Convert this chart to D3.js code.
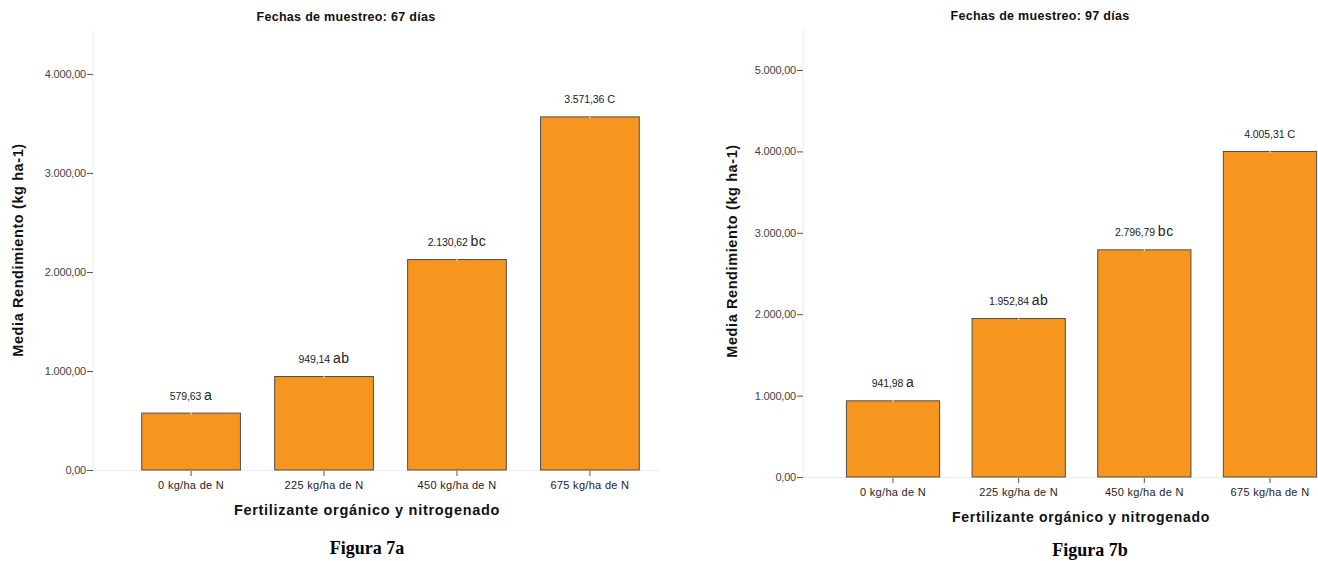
<!DOCTYPE html>
<html>
<head>
<meta charset="utf-8">
<script src="https://cdn.jsdelivr.net/npm/d3@7"></script>
<style>
  html, body { margin: 0; padding: 0; background: #fff; }
  svg { display: block; }
  text { font-family: "Liberation Sans", Arial, sans-serif; }
</style>
</head>
<body>
<svg id="chart" width="1318" height="561"></svg>
<script>
// ---- data ----
const categories = ["0 kg/ha de N", "225 kg/ha de N", "450 kg/ha de N", "675 kg/ha de N"];
const values67 = [579.63, 949.14, 2130.62, 3571.36];
const letters67 = ["a", "ab", "bc", "C"];
const ticks67 = [0, 1000, 2000, 3000, 4000];
const values97 = [941.98, 1952.84, 2796.79, 4005.31];
const letters97 = ["a", "ab", "bc", "C"];
const ticks97 = [0, 1000, 2000, 3000, 4000, 5000];
const titles = ["Fechas de muestreo: 67 días", "Fechas de muestreo: 97 días"];
const captions = ["Figura 7a", "Figura 7b"];
const yTitle = "Media Rendimiento (kg ha-1)";
const xTitle = "Fertilizante orgánico y nitrogenado";

const locale = d3.formatLocale({decimal: ",", thousands: ".", grouping: [3], currency: ["", ""]});
const fmt = locale.format(",.2f");

const svg = d3.select("#chart");

function panel(cfg, values, letters, ticks, title, caption) {
  const g = svg.append("g");
  const x = d3.scaleBand().domain(categories).range([cfg.x0, cfg.x1]).paddingInner(0.25).paddingOuter(0.25);
  const y = d3.scaleLinear().domain([0, cfg.ymax]).range([cfg.yBase, cfg.yTop]);

  // faint axis lines
  g.append("line").attr("x1", cfg.axisX).attr("x2", cfg.axisX).attr("y1", cfg.yTop).attr("y2", cfg.yBase)
    .attr("stroke", "#ececec").attr("stroke-width", 1);
  g.append("line").attr("x1", cfg.axisX).attr("x2", cfg.xEnd).attr("y1", cfg.yBase + 0.5).attr("y2", cfg.yBase + 0.5)
    .attr("stroke", "#ececec").attr("stroke-width", 1);

  // y axis
  const yAxis = d3.axisLeft(y).tickValues(ticks).tickFormat(fmt).tickSize(6).tickPadding(1);
  const ya = g.append("g").attr("transform", `translate(${cfg.axisX},0)`).call(yAxis);
  ya.select(".domain").remove();
  ya.selectAll(".tick line").attr("stroke", "#555");
  ya.selectAll(".tick text").attr("fill", "#444").style("font-size", "11px")
    .style("font-family", "'Liberation Sans', Arial, sans-serif").attr("letter-spacing", "-0.2");

  // x axis
  const xAxis = d3.axisBottom(x).tickSize(5).tickPadding(5);
  const xa = g.append("g").attr("transform", `translate(0,${cfg.yBase + 1})`).call(xAxis);
  xa.select(".domain").remove();
  xa.selectAll(".tick line").attr("stroke", "#555");
  xa.selectAll(".tick text").attr("fill", "#222").style("font-size", "11px")
    .style("font-family", "'Liberation Sans', Arial, sans-serif").attr("letter-spacing", "0.3");

  // bars
  g.selectAll("rect.bar").data(values).join("rect")
    .attr("class", "bar")
    .attr("x", (d, i) => x(categories[i]) + 0.5)
    .attr("y", d => y(d) + 0.5)
    .attr("width", x.bandwidth() - 1)
    .attr("height", d => cfg.yBase - y(d) - 0.5)
    .attr("fill", "#F7961F")
    .attr("stroke", "#4d4d4d")
    .attr("stroke-width", 1);
  // small light mark at the top of each bar
  g.selectAll("line.mk").data(values).join("line")
    .attr("class", "mk")
    .attr("x1", (d, i) => x(categories[i]) + x.bandwidth() / 2)
    .attr("x2", (d, i) => x(categories[i]) + x.bandwidth() / 2)
    .attr("y1", d => y(d) - 1)
    .attr("y2", d => y(d) + 2)
    .attr("stroke", "#e8e8e8").attr("stroke-width", 1);

  // value labels
  const lab = g.selectAll("text.val").data(values).join("text")
    .attr("class", "val")
    .attr("x", (d, i) => x(categories[i]) + x.bandwidth() / 2)
    .attr("y", d => y(d) - cfg.labOff)
    .attr("text-anchor", "middle")
    .attr("fill", "#222");
  lab.append("tspan").style("font-size", "10.5px").attr("letter-spacing", "-0.1").text(d => fmt(d) + " ");
  lab.append("tspan")
    .style("font-size", (d, i) => letters[i] === letters[i].toUpperCase() ? "11px" : "14px")
    .attr("letter-spacing", "0.5")
    .text((d, i) => letters[i]);

  // title
  g.append("text").attr("x", cfg.titleX).attr("y", cfg.titleY).attr("text-anchor", "middle")
    .style("font-size", "12.5px").style("font-weight", "bold").attr("letter-spacing", "0.3")
    .attr("fill", "#111").text(title);

  // y title
  g.append("text").attr("transform", `translate(${cfg.yTitleX},${cfg.yTitleY}) rotate(-90)`)
    .attr("text-anchor", "middle").style("font-size", "14.5px").style("font-weight", "bold")
    .attr("letter-spacing", "0.6").attr("fill", "#111").text(yTitle);

  // x title
  g.append("text").attr("x", cfg.xTitleX).attr("y", cfg.xTitleY).attr("text-anchor", "middle")
    .style("font-size", cfg.xTitleSize).style("font-weight", "bold").attr("letter-spacing", "0.7")
    .attr("fill", "#111").text(xTitle);

  // caption
  g.append("text").attr("x", cfg.capX).attr("y", cfg.capY).attr("text-anchor", "middle")
    .style("font-family", "'Liberation Serif', 'Times New Roman', serif")
    .style("font-size", "18px").style("font-weight", "bold").attr("fill", "#000").text(caption);
}

panel({x0: 108, x1: 673, axisX: 93, xEnd: 660, yBase: 470, yTop: 30, ymax: 4444, labOff: 13,
       titleX: 346, titleY: 21, yTitleX: 23, yTitleY: 250, xTitleX: 367, xTitleY: 515, xTitleSize: "14.5px",
       capX: 367, capY: 554},
      values67, letters67, ticks67, titles[0], captions[0]);

panel({x0: 814.5, x1: 1348.5, axisX: 803, xEnd: 1318, yBase: 477, yTop: 28, ymax: 5516, labOff: 13,
       titleX: 1040, titleY: 20, yTitleX: 737, yTitleY: 251, xTitleX: 1081, xTitleY: 522, xTitleSize: "14px",
       capX: 1090, capY: 556},
      values97, letters97, ticks97, titles[1], captions[1]);
</script>
</body>
</html>
